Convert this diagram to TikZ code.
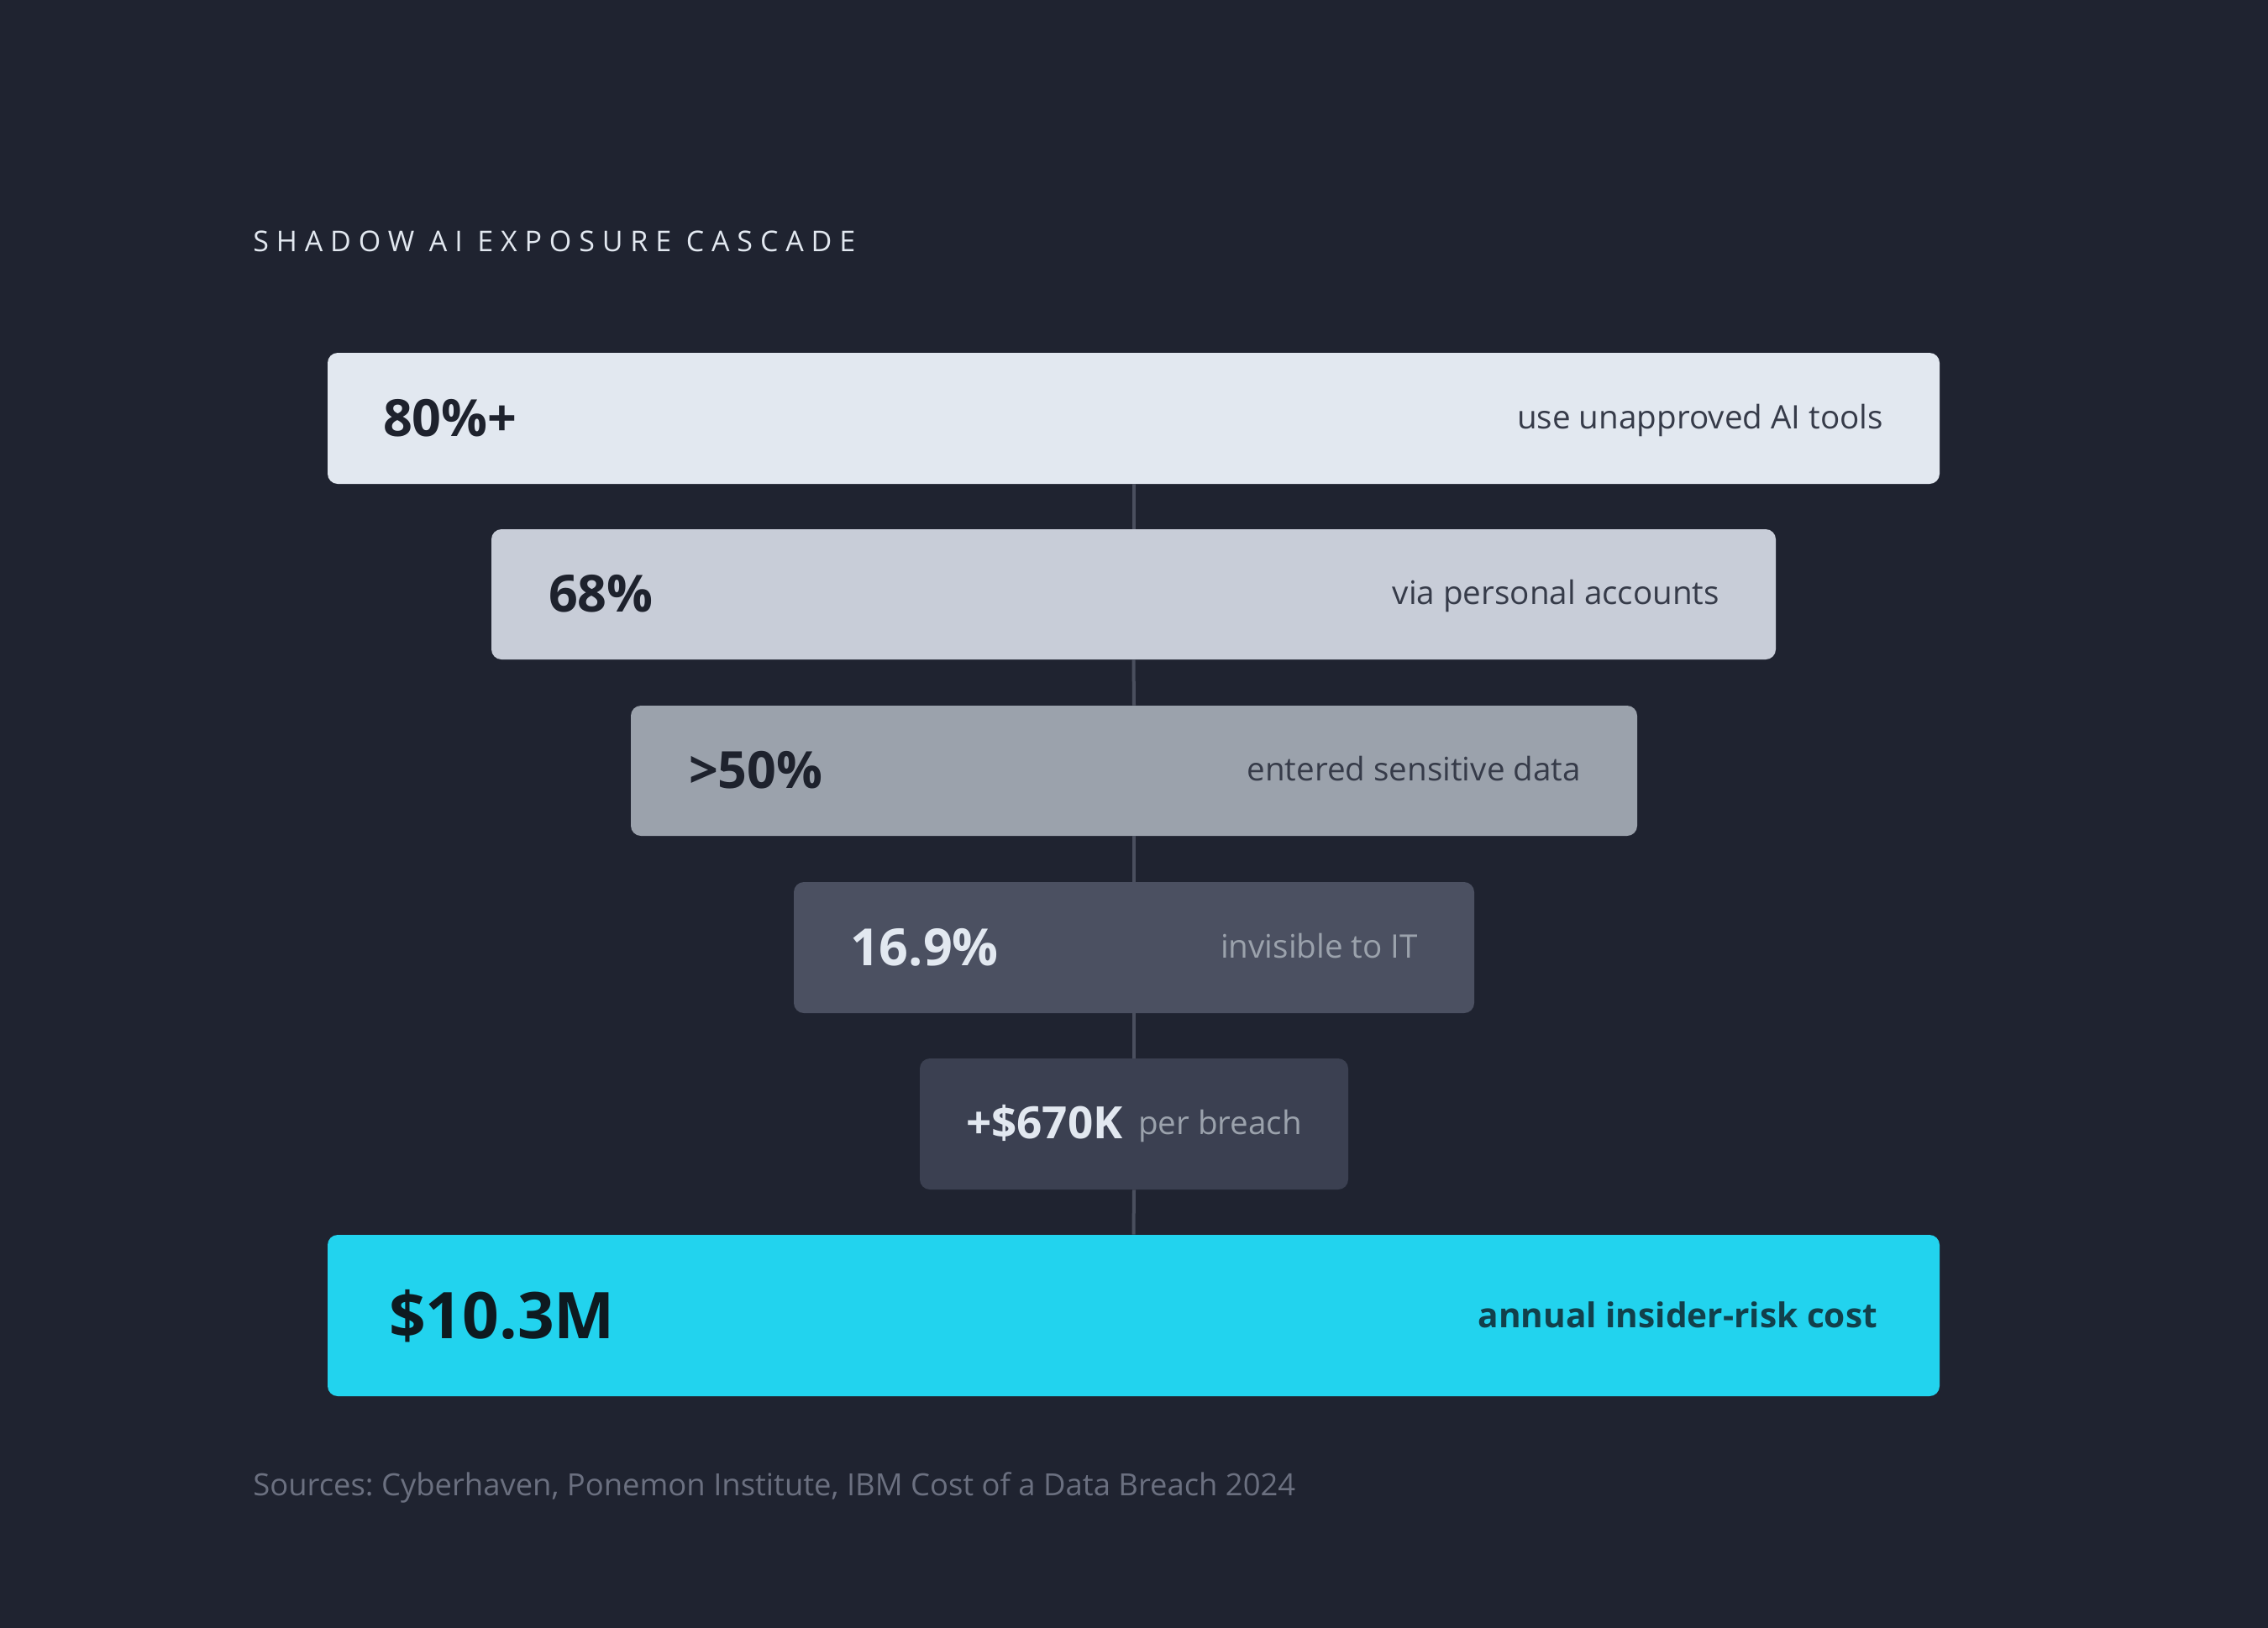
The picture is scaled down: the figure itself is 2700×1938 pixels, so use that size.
\documentclass[tikz,border=0pt]{standalone}
\usepackage{fontspec}
\setmainfont{Open Sans}
\frenchspacing
\usetikzlibrary{calc}
\definecolor{bg}{HTML}{1F2330}
\definecolor{titlec}{HTML}{E2E8F0}
\definecolor{srcc}{HTML}{6B7080}
\definecolor{linec}{HTML}{4A4F5E}
\definecolor{fa}{HTML}{E2E8F0}
\definecolor{fb}{HTML}{C8CDD8}
\definecolor{fc}{HTML}{9BA2AC}
\definecolor{fd}{HTML}{4B5061}
\definecolor{fe}{HTML}{3B4051}
\definecolor{ff}{HTML}{22D3EE}
\definecolor{darkv}{HTML}{1E222D}
\definecolor{darkl}{HTML}{363B49}
\definecolor{lightv}{HTML}{E2E8F0}
\definecolor{lightl}{HTML}{9BA2AC}
\definecolor{cyanv}{HTML}{0E1A20}
\definecolor{cyanl}{HTML}{12404B}
\tikzset{
  bar/.style={rectangle, rounded corners=6pt, inner sep=0pt, draw=none},
  val/.style={anchor=base west, inner sep=0pt, font=\bfseries\fontsize{30.5}{36}\selectfont},
  lab/.style={anchor=base east, inner sep=0pt, font=\fontsize{19.3}{23}\selectfont},
  conn/.style={draw=linec, line width=2pt}
}
\begin{document}
\begin{tikzpicture}[x=0.5pt,y=-0.5pt]
\fill[bg] (0,0) rectangle (2700,1938);
\useasboundingbox (0,0) rectangle (2700,1938);
\node[anchor=base west, inner sep=0pt, text=titlec, font=\fontsize{17}{20}\selectfont\addfontfeature{LetterSpace=26}] (title) at (301,299) {SHADOW AI EXPOSURE CASCADE};
% bars
\node[bar, fill=fa, minimum width=959.5pt, minimum height=78pt] (b1) at (1349.5,498) {};
\node[bar, fill=fb, minimum width=764.5pt, minimum height=77.5pt] (b2) at (1349.5,707.5) {};
\node[bar, fill=fc, minimum width=599pt, minimum height=77.5pt] (b3) at (1350,917.5) {};
\node[bar, fill=fd, minimum width=405pt, minimum height=78pt] (b4) at (1350,1128) {};
\node[bar, fill=fe, minimum width=255pt, minimum height=78pt] (b5) at (1350,1338) {};
\node[bar, fill=ff, minimum width=959.5pt, minimum height=96pt] (b6) at (1349.5,1566) {};
% connectors
\draw[conn] (b1.south) -- (b2.north);
\draw[conn] (b2.south) -- (b3.north);
\draw[conn] (b3.south) -- (b4.north);
\draw[conn] (b4.south) -- (b5.north);
\draw[conn] (b5.south) -- (b6.north);
% texts
\node[val, text=darkv] (v1) at ([shift={(66,21)}]b1.west) {80\%+};
\node[lab, text=darkl] (l1) at ([shift={(-67,12)}]b1.east) {use unapproved AI tools};
\node[val, text=darkv] (v2) at ([shift={(68,21)}]b2.west) {68\%};
\node[lab, text=darkl] (l2) at ([shift={(-67,12)}]b2.east) {via personal accounts};
\node[val, text=darkv] (v3) at ([shift={(69,21)}]b3.west) {>50\%};
\node[lab, text=darkl] (l3) at ([shift={(-67,12)}]b3.east) {entered sensitive data};
\node[val, text=lightv] (v4) at ([shift={(67,21)}]b4.west) {16.9\%};
\node[lab, text=lightl] (l4) at ([shift={(-67,12)}]b4.east) {invisible to IT};
\node[val, text=lightv, font=\bfseries\fontsize{26.5}{31}\selectfont] (v5) at ([shift={(55,17)}]b5.west) {+\$670K};
\node[lab, text=lightl] (l5) at ([shift={(-55,12)}]b5.east) {per breach};
\node[val, text=cyanv, font=\bfseries\fontsize{38.3}{45}\selectfont] (v6) at ([shift={(73,27)}]b6.west) {\$10.3M};
\node[lab, text=cyanl, font=\bfseries\fontsize{20.3}{24}\selectfont] (l6) at ([shift={(-74,14)}]b6.east) {annual insider-risk cost};
\node[anchor=base west, inner sep=0pt, text=srcc, font=\fontsize{18.2}{21}\selectfont] (src) at (301,1780) {Sources: Cyberhaven, Ponemon Institute, IBM Cost of a Data Breach 2024};
\end{tikzpicture}
\end{document}
